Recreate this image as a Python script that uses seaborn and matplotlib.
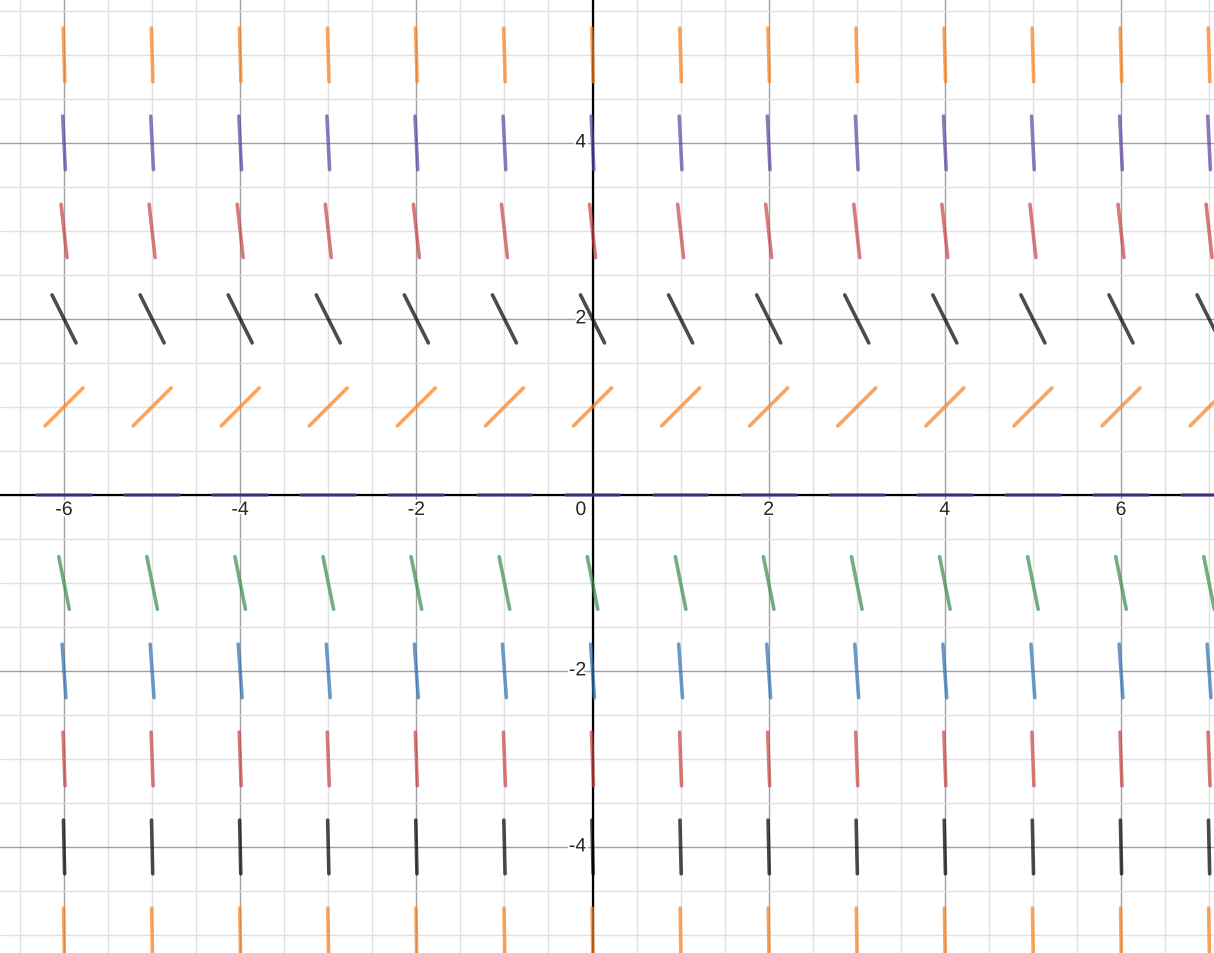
import numpy as np
import pandas as pd
import seaborn as sns
import matplotlib.pyplot as plt
import matplotlib.patheffects as pe

# slope field data: one short segment per grid point
cols_x = [-6, -5, -4, -3, -2, -1, 0, 1, 2, 3, 4, 5, 6, 7]
rows_y = [5, 4, 3, 2, 1, 0, -1, -2, -3, -4, -5]
slopes = [-35, -20, -9, -2, 1, 0, -5, -14, -27, -44, -65]
row_colors = ["#fa7e19", "#6042a6", "#c74440", "#000000", "#fa7e19", "#6042a6",
              "#388c46", "#2d70b3", "#c74440", "#000000", "#fa7e19"]
x_ticks = [-6, -4, -2, 2, 4, 6]
y_ticks = [-4, -2, 2, 4]
seg_len = 0.61

sns.set_style("white")
plt.rcParams['font.family'] = ['Liberation Sans', 'DejaVu Sans']

# build segment endpoints
recs = []
sid = 0
for y0, m in zip(rows_y, slopes):
    dx = seg_len / 2 / np.sqrt(1 + m * m)
    for x0 in cols_x:
        recs.append(dict(seg=sid, row=str(y0), x=x0 - dx, y=y0 - m * dx))
        recs.append(dict(seg=sid, row=str(y0), x=x0 + dx, y=y0 + m * dx))
        sid += 1
df = pd.DataFrame(recs)
pal = {str(y): c for y, c in zip(rows_y, row_colors)}

fig = plt.figure(figsize=(12.14, 9.54), dpi=100)
ax = fig.add_axes([0, 0, 1, 1])
ax.set_xlim(-6.727, 7.056)
ax.set_ylim(-5.205, 5.635)

# grid
for v in np.arange(-7, 7.6, 0.5):
    major = abs(v % 2) < 1e-9
    ax.axvline(v, color="#a0a0a0" if major else "#e0e0e0", lw=1.0, zorder=0)
for v in np.arange(-6, 6.1, 0.5):
    major = abs(v % 2) < 1e-9
    ax.axhline(v, color="#a0a0a0" if major else "#e0e0e0", lw=1.0, zorder=0)
ax.axhline(0, color="black", lw=1.6, zorder=1)
ax.axvline(0, color="black", lw=1.6, zorder=1)

sns.lineplot(data=df, x="x", y="y", hue="row", units="seg", estimator=None,
             sort=False, palette=pal, lw=2.6, alpha=0.7, legend=False, ax=ax,
             zorder=3)

halo = [pe.withStroke(linewidth=3, foreground="white")]
fs = 14
for t in x_ticks:
    ax.text(t, -0.08, str(t), ha="center", va="top", fontsize=fs, path_effects=halo, zorder=4)
for t in y_ticks:
    ax.text(-0.07, t, str(t), ha="right", va="center", fontsize=fs, path_effects=halo, zorder=4)
ax.text(-0.07, -0.08, "0", ha="right", va="top", fontsize=fs, path_effects=halo, zorder=4)

ax.set_xlabel("")
ax.set_ylabel("")
ax.set_xticks([])
ax.set_yticks([])
for s in ax.spines.values():
    s.set_visible(False)

fig.savefig("out.png", dpi=100)
